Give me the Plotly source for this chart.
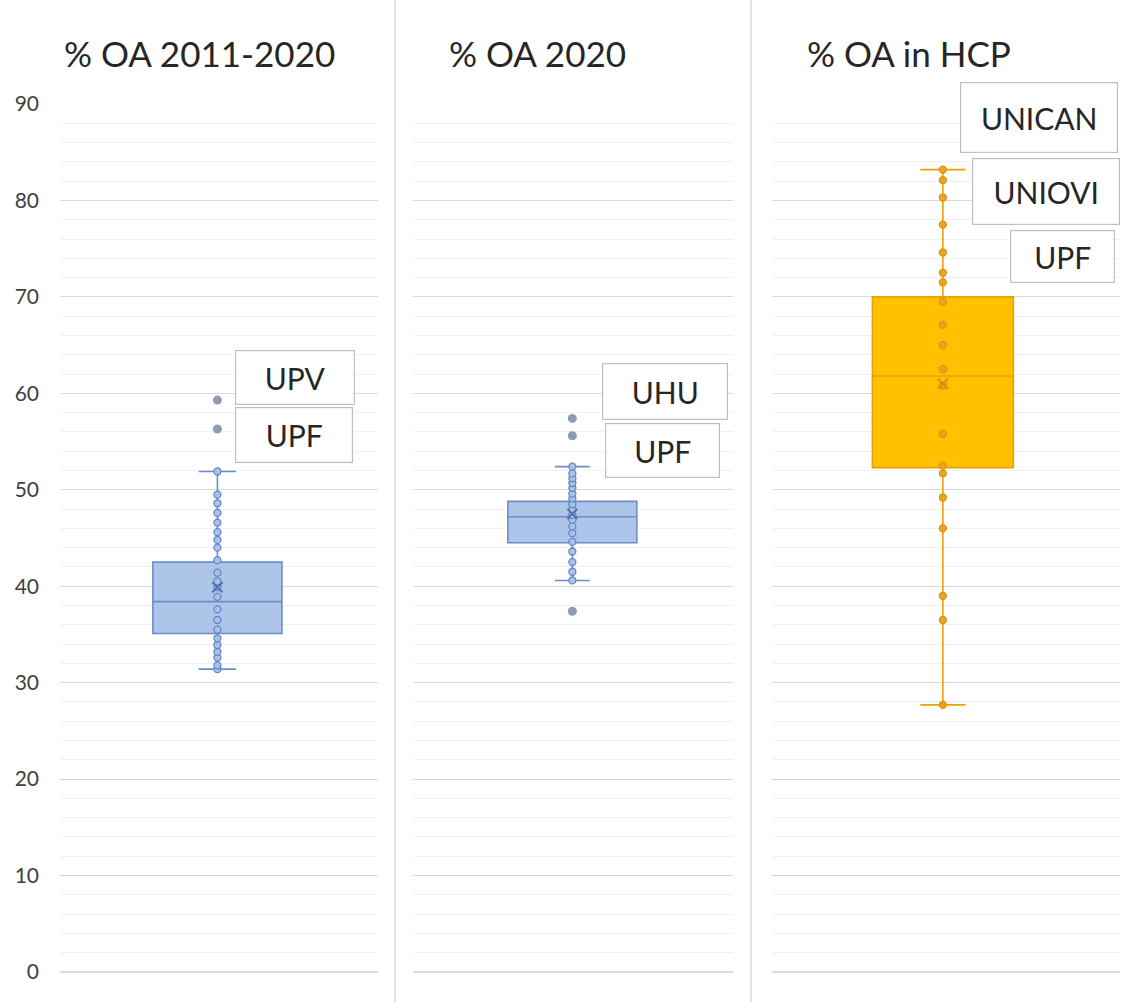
import plotly.graph_objects as go

# ---------------- data ----------------
panel_titles = ["% OA 2011-2020", "% OA 2020", "% OA in HCP"]
q1 = [35.1, 44.5, 52.3]
median = [38.4, 47.2, 61.8]
q3 = [42.5, 48.8, 70.0]
lowerfence = [31.4, 40.6, 27.7]
upperfence = [51.9, 52.4, 83.2]
mean = [39.9, 47.5, 61.0]

points_1 = [31.4, 31.8, 32.6, 33.2, 33.9, 34.6, 35.5, 36.5, 37.6, 38.9, 39.9,
            40.5, 41.4, 42.7, 44.0, 44.8, 45.6, 46.6, 47.6, 48.6, 49.5, 51.9]
points_2 = [40.6, 41.5, 42.5, 43.6, 44.6, 45.5, 46.2, 46.9, 47.4, 48.0, 48.5,
            49.1, 49.6, 50.2, 50.7, 51.2, 51.7, 52.4]
points_3 = [27.7, 36.5, 39.0, 46.0, 49.2, 51.7, 52.5, 55.8, 60.8, 62.5, 65.0,
            67.1, 69.5, 71.5, 72.5, 74.6, 77.5, 80.3, 82.1, 83.2]
outliers_1 = [59.3, 56.3]
outliers_2 = [57.4, 55.6, 37.4]

labels_1 = ["UPV", "UPF"]
labels_2 = ["UHU", "UPF"]
labels_3 = ["UNICAN", "UNIOVI", "UPF"]

y_ticks = [0, 10, 20, 30, 40, 50, 60, 70, 80, 90]

# ---------------- styling / layout ----------------
W, H = 1130, 1002
FONT = "Lato, 'Open Sans', sans-serif"

box_fill = ["#AEC5EA", "#AEC5EA", "#FFC000"]
box_line = ["#6C8DC8", "#6C8DC8", "#E8A200"]
pt_fill = ["#A9C2E8", "#A9C2E8", "#E9A521"]
pt_line = ["#6486C4", "#6486C4", "#DB9312"]
mean_col = ["#4F71B0", "#4F71B0", "#D98E10"]
out_col = "#8E9BB0"

panel_px = [(60, 378), (413, 733), (772, 1120)]
centers = [0.495, 0.498, 0.491]
widths = [0.406, 0.403, 0.405]
whiskerw = [0.29, 0.27, 0.32]
y_top_px, y_bot_px = 104, 972


def py(v):
    return 1 - v / H


all_points = [points_1, points_2, points_3]
all_outliers = [outliers_1, outliers_2, []]

fig = go.Figure()

for i in range(3):
    ax = "" if i == 0 else str(i + 1)
    xa, ya = "x" + ax, "y" + ax
    fig.add_trace(go.Box(
        x=[0], q1=[q1[i]], median=[median[i]], q3=[q3[i]],
        lowerfence=[lowerfence[i]], upperfence=[upperfence[i]],
        boxpoints=False, width=widths[i], whiskerwidth=whiskerw[i],
        fillcolor=box_fill[i], line=dict(color=box_line[i], width=1.6),
        xaxis=xa, yaxis=ya, showlegend=False, hoverinfo="skip"))
    pts = all_points[i]
    fig.add_trace(go.Scatter(
        x=[0] * len(pts), y=pts, mode="markers",
        marker=dict(symbol="circle", size=7, color=pt_fill[i],
                    line=dict(color=pt_line[i], width=1.3)),
        xaxis=xa, yaxis=ya, showlegend=False))
    fig.add_trace(go.Scatter(
        x=[0], y=[mean[i]], mode="markers",
        marker=dict(symbol="x-thin-open", size=10, color=mean_col[i],
                    line=dict(color=mean_col[i], width=2)),
        xaxis=xa, yaxis=ya, showlegend=False))
    outs = all_outliers[i]
    if outs:
        fig.add_trace(go.Scatter(
            x=[0] * len(outs), y=outs, mode="markers",
            marker=dict(symbol="circle", size=9, color=out_col),
            xaxis=xa, yaxis=ya, showlegend=False))

y_domain = [py(y_bot_px), py(y_top_px)]
layout = dict(
    width=W, height=H, autosize=False,
    margin=dict(l=0, r=0, t=0, b=0, pad=0, autoexpand=False),
    paper_bgcolor="white", plot_bgcolor="white",
    font=dict(family=FONT, color="#404040"),
)
for i in range(3):
    ax = "" if i == 0 else str(i + 1)
    l, r = panel_px[i]
    c = centers[i]
    layout["xaxis" + ax] = dict(
        domain=[l / W, r / W], range=[-c, 1 - c], visible=False,
        automargin=False, anchor="y" + ax)
    layout["yaxis" + ax] = dict(
        domain=y_domain, range=[0, 90], anchor="x" + ax, automargin=False,
        tickvals=y_ticks, showticklabels=(i == 0),
        tickfont=dict(size=21, color="#404040", family=FONT),
        ticks="", ticklabelstandoff=20,
        showgrid=True, gridcolor="#D9D9D9", gridwidth=1.3,
        zeroline=False, showline=False,
        minor=dict(dtick=2, showgrid=True, gridcolor="#F0F0F0", gridwidth=1))
fig.update_layout(**layout)

title_px = [(62, 53), (447, 53), (805, 53)]
for i, t in enumerate(panel_titles):
    fig.add_annotation(text=t, xref="paper", yref="paper",
                       x=title_px[i][0] / W, y=py(title_px[i][1]),
                       xanchor="left", yanchor="middle", showarrow=False,
                       font=dict(size=35, color="#262626", family=FONT))

for xs in [395, 751]:
    fig.add_shape(type="line", xref="paper", yref="paper",
                  x0=xs / W, x1=xs / W, y0=0, y1=1,
                  line=dict(color="#D9D9D9", width=1.5))

for i in range(3):
    l, r = panel_px[i]
    fig.add_shape(type="line", xref="paper", yref="paper",
                  x0=l / W, x1=r / W, y0=y_domain[0], y1=y_domain[0],
                  line=dict(color="#D0D0D0", width=1.5))

# label boxes: (text, left, right, top, bottom) in px
label_boxes = [
    (labels_1[0], 235, 355, 350, 405), (labels_1[1], 235, 353, 407, 463),
    (labels_2[0], 602, 728, 363, 420), (labels_2[1], 605, 720, 423, 478),
    (labels_3[0], 960, 1118, 82, 153), (labels_3[1], 972, 1120, 158, 225),
    (labels_3[2], 1010, 1115, 230, 283),
]
for text, l, r, t, b in label_boxes:
    fig.add_annotation(text=text, xref="paper", yref="paper",
                       x=(l + r) / 2 / W, y=py((t + b) / 2),
                       xanchor="center", yanchor="middle",
                       showarrow=False, width=r - l - 2, height=b - t - 2,
                       borderpad=0, borderwidth=1.2, bordercolor="#BFBFBF",
                       bgcolor="white", align="center", valign="middle",
                       font=dict(size=30, color="#262626", family=FONT))

fig.write_html("out.html", config={"displayModeBar": False},
               post_script="document.body.style.margin='0';document.body.style.padding='0';document.documentElement.style.overflow='hidden';")
